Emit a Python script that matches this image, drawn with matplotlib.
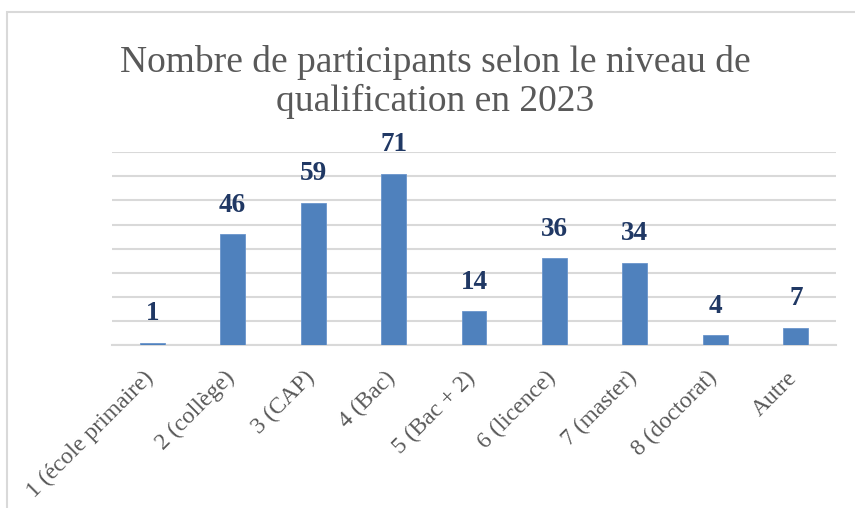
import matplotlib
matplotlib.use("Agg")
import matplotlib.pyplot as plt
from matplotlib.patches import Rectangle
from matplotlib.transforms import ScaledTranslation

categories = ["1 (école primaire)", "2 (collège)", "3 (CAP)", "4 (Bac)", "5 (Bac + 2)",
              "6 (licence)", "7 (master)", "8 (doctorat)", "Autre"]
values = [1, 46, 59, 71, 14, 36, 34, 4, 7]
title = "Nombre de participants selon le niveau de\nqualification en 2023"

W, H = 855, 508
fig = plt.figure(figsize=(W / 100, H / 100), dpi=100)
serif = ["Liberation Serif", "DejaVu Serif"]

# outer chart border
fig.patches.append(Rectangle((7 / W, -0.1), 1.2, 1 - 12 / H + 0.1, transform=fig.transFigure,
                             fill=False, edgecolor="#D9D9D9", linewidth=1.5, zorder=0))

ax = fig.add_axes([112 / W, 163 / H, (836 - 112) / W, (345 - 152.3) / H])
x = list(range(len(categories)))
bars = ax.bar(x, values, width=0.31, color="#4F81BD", edgecolor="#6A95CC", linewidth=0.6, zorder=3)
ax.set_xlim(-0.5, len(categories) - 0.5)
ax.set_ylim(0, 80)
ax.set_yticks(range(0, 81, 10))
ax.yaxis.grid(True, color="#D9D9D9", linewidth=1.5, zorder=0)
ax.set_axisbelow(True)
for s in ["left", "right", "top"]:
    ax.spines[s].set_visible(False)
ax.spines["bottom"].set_color("#D9D9D9")
ax.spines["bottom"].set_linewidth(1.5)
ax.tick_params(axis="y", length=0, labelleft=False)
ax.tick_params(axis="x", length=0, pad=16)
ax.set_xticks(x)
ax.set_xticklabels(categories, rotation=45, ha="right", va="top", family=serif,
                   fontsize=17, color="#595959")
off = ScaledTranslation(6 / 100, 0, fig.dpi_scale_trans)
for lab in ax.get_xticklabels():
    lab.set_transform(lab.get_transform() + off)

for xi, v in zip(x, values):
    ax.annotate(str(v), (xi, v), xytext=(0, 12), textcoords="offset points",
                ha="center", va="bottom", family=serif, fontsize=19.5, fontweight="bold",
                color="#203864")

fig.text(435 / W, 1 - 45 / H, title, ha="center", va="top", family=serif,
         fontsize=27, color="#595959", linespacing=1.15)

fig.savefig("out.png", dpi=100)
